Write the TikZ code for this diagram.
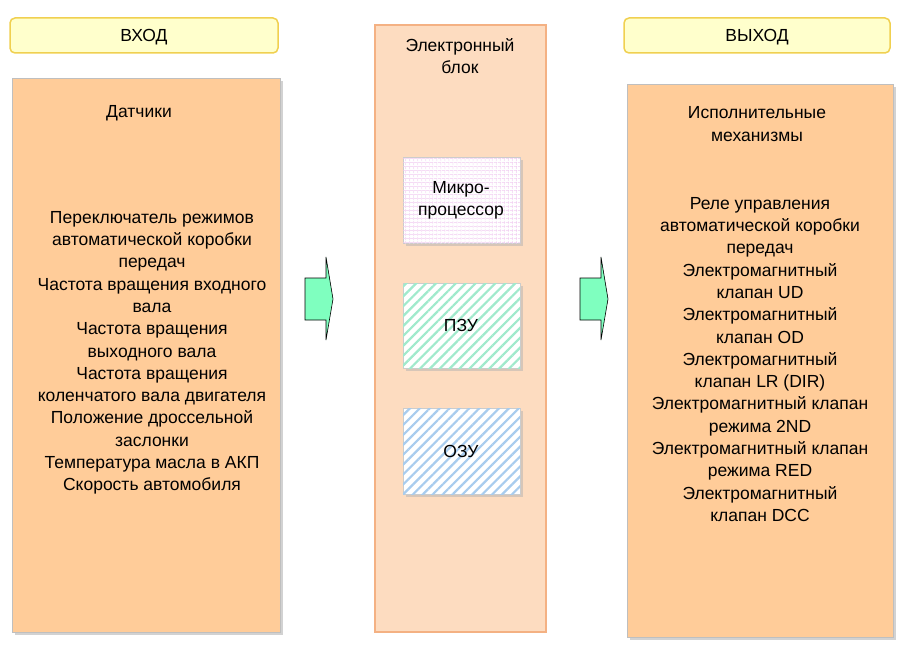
\documentclass[tikz,border=0pt]{standalone}
\usepackage{fontspec}
\setmainfont{Liberation Sans}
\usetikzlibrary{patterns.meta,shadows}
\definecolor{peach}{HTML}{FFCC99}
\definecolor{lpeach}{HTML}{FDDCC0}
\definecolor{orbord}{HTML}{F4B183}
\definecolor{hdrfill}{HTML}{FFFFCC}
\definecolor{hdrbord}{HTML}{F0D050}
\definecolor{arrfill}{HTML}{7FFFBF}
\definecolor{gridc}{HTML}{F0C8F0}
\definecolor{grnc}{HTML}{A0EACC}
\definecolor{bluc}{HTML}{A8CCEE}
\begin{document}
\begin{tikzpicture}[x=1pt,y=-1pt,
  hdr/.style={draw=hdrbord,line width=1.5pt,fill=hdrfill,rounded corners=5pt},
  bigbox/.style={fill=peach,draw=gray!50,drop shadow={shadow xshift=3pt,shadow yshift=-3pt,fill=gray!70}},
  chip/.style={draw=gray!40,drop shadow={shadow xshift=3pt,shadow yshift=-3pt,fill=gray!60}},
  txt/.style={align=center,font=\fontsize{17.5}{22.3}\selectfont,inner sep=0pt},
  arr/.style={draw=black,fill=arrfill,line width=0.6pt}]
\useasboundingbox (0,0) rectangle (910,650);
% headers
\draw[hdr] (10,18) rectangle (278,53);
\node[txt] (inL) at (144,37) {ВХОД};
\draw[hdr] (624,18) rectangle (890,53);
\node[txt] (outL) at (757,37) {ВЫХОД};
% big boxes
\draw[bigbox] (12,78) rectangle (280,632);
\draw[bigbox] (627,84) rectangle (893,637);
\draw[fill=lpeach,draw=orbord,line width=1.5pt] (375,25) rectangle (546,632);
% middle
\node[txt] (eb) at (460,56) {Электронный\\блок};
\draw[chip,fill=white] (403,157) rectangle (520,243);
\fill[pattern={Lines[angle=0,distance=4pt,line width=0.8pt]},pattern color=gridc] (403,157) rectangle (520,243);
\fill[pattern={Lines[angle=90,distance=4pt,line width=0.8pt]},pattern color=gridc] (403,157) rectangle (520,243);
\node[txt] (mp) at (461,200) {Микро-\\процессор};
\draw[chip,fill=white] (403,283) rectangle (520,368);
\fill[pattern={Lines[angle=45,distance=7pt,line width=2.2pt]},pattern color=grnc] (403,283) rectangle (520,368);
\node[txt] (pzu) at (461,325) {ПЗУ};
\draw[chip,fill=white] (403,408) rectangle (520,494);
\fill[pattern={Lines[angle=45,distance=7pt,line width=2.2pt]},pattern color=bluc] (403,408) rectangle (520,494);
\node[txt] (ozu) at (461,451) {ОЗУ};
% arrows
\draw[arr] (305,278) -- (326,278) -- (326,257) -- (333,299) -- (326,340) -- (326,320) -- (305,320) -- cycle;
\draw[arr] (580,278) -- (601,278) -- (601,257) -- (608,299) -- (601,340) -- (601,320) -- (580,320) -- cycle;
% left text
\node[txt] (dat) at (139,113) {Датчики};
\node[txt,anchor=north] (ltxt) at (152,211) {Переключатель режимов\\автоматической коробки\\передач\\Частота вращения входного\\вала\\Частота вращения\\выходного вала\\Частота вращения\\коленчатого вала двигателя\\Положение дроссельной\\заслонки\\Температура масла в АКП\\Скорость автомобиля};
% right text
\node[txt] (ism) at (757,124) {Исполнительные\\механизмы};
\node[txt,anchor=north] (rtxt) at (760,197) {Реле управления\\автоматической коробки\\передач\\Электромагнитный\\клапан UD\\Электромагнитный\\клапан OD\\Электромагнитный\\клапан LR (DIR)\\Электромагнитный клапан\\режима 2ND\\Электромагнитный клапан\\режима RED\\Электромагнитный\\клапан DCC};
\end{tikzpicture}
\end{document}
